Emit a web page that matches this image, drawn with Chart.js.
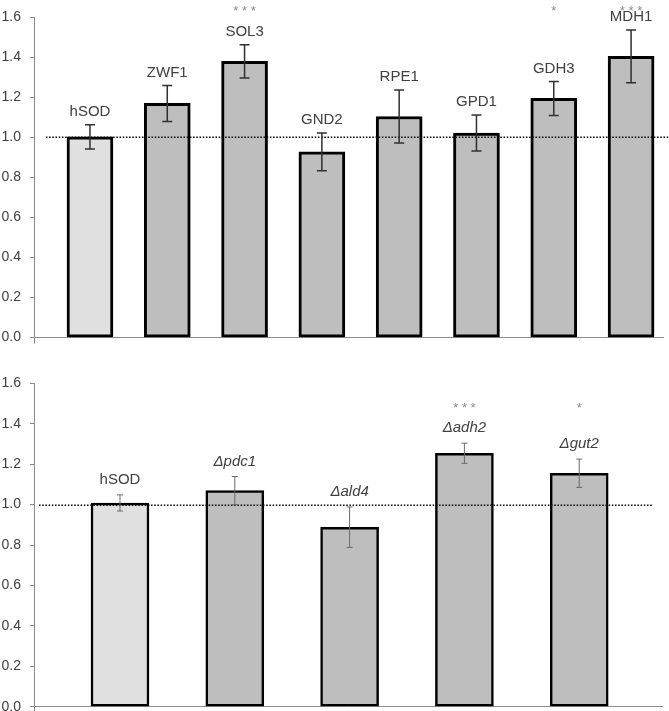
<!DOCTYPE html>
<html>
<head>
<meta charset="utf-8">
<script src="https://cdn.jsdelivr.net/npm/chart.js@4/dist/chart.umd.min.js"></script>
<style>
html,body{margin:0;padding:0;background:#fff;overflow:hidden;width:669px;height:711px;}
#c1{position:absolute;left:0;top:0;}
#c2{position:absolute;left:0;top:355px;}
</style>
</head>
<body>
<canvas id="c1" width="669" height="355"></canvas>
<canvas id="c2" width="669" height="370"></canvas>
<script>
// ---- data ----
const topCats = ["hSOD", "ZWF1", "SOL3", "GND2", "RPE1", "GPD1", "GDH3", "MDH1"];
const topValues = [1.003, 1.17, 1.38, 0.928, 1.105, 1.022, 1.195, 1.405];
const topErrors = [0.06, 0.09, 0.083, 0.094, 0.132, 0.09, 0.085, 0.132];
const topSig = ["", "", "***", "", "", "", "*", "***"];

const botCats = ["hSOD", "Δpdc1", "Δald4", "Δadh2", "Δgut2"];
const botItalic = [false, true, true, true, true];
const botValues = [1.008, 1.069, 0.888, 1.254, 1.155];
const botErrors = [0.04, 0.07, 0.1, 0.05, 0.07];
const botSig = ["", "", "", "***", "*"];

const yTicks = [0, 0.2, 0.4, 0.6, 0.8, 1.0, 1.2, 1.4, 1.6];
const refValue = 1.0;

const FONT = "'Liberation Sans', Arial, sans-serif";
const AXIS = "#8c8c8c";

function barColors(cats){ return cats.map(c => c === "hSOD" ? "#e0e0e0" : "#bebebe"); }

function makeChart(id, cfg){
  const errPlugin = {
    id: 'annot',
    afterDatasetsDraw(chart){
      const ctx = chart.ctx, xs = chart.scales.x, ys = chart.scales.y;
      // reference dotted line
      ctx.save();
      ctx.strokeStyle = "#000";
      ctx.lineWidth = 1.5;
      ctx.setLineDash([1.5, 1.7]);
      const yr = Math.round(ys.getPixelForValue(refValue)) + 0.25;
      ctx.beginPath();
      ctx.moveTo(xs.getPixelForValue(cfg.refStart), yr);
      ctx.lineTo(xs.getPixelForValue(cfg.refEnd), yr);
      ctx.stroke();
      ctx.restore();
      // error bars + labels
      cfg.values.forEach((v, i) => {
        const x = xs.getPixelForValue(i);
        const yt = ys.getPixelForValue(v + cfg.errors[i]);
        const yb = ys.getPixelForValue(v - cfg.errors[i]);
        ctx.save();
        ctx.strokeStyle = cfg.errColor;
        ctx.lineWidth = cfg.errWidth;
        ctx.beginPath();
        ctx.moveTo(x, yt); ctx.lineTo(x, yb);
        ctx.moveTo(x - cfg.cap, yt); ctx.lineTo(x + cfg.cap, yt);
        ctx.moveTo(x - cfg.cap, yb); ctx.lineTo(x + cfg.cap, yb);
        ctx.stroke();
        ctx.restore();
        ctx.save();
        ctx.fillStyle = "#404040";
        ctx.textAlign = "center";
        ctx.textBaseline = "middle";
        ctx.font = ((cfg.italic && cfg.italic[i]) ? "italic " : "") + "15px " + FONT;
        ctx.fillText(cfg.cats[i], x, yt - cfg.labelGap);
        if (cfg.sig[i]) {
          ctx.fillStyle = "#8a8a8a";
          ctx.textBaseline = "alphabetic";
          ctx.font = "13px " + FONT;
          ctx.fillText(cfg.sig[i].split("").join(" "), x, ys.getPixelForValue(cfg.starLevel));
        }
        ctx.restore();
      });
    }
  };
  return new Chart(document.getElementById(id), {
    type: 'bar',
    data: {
      datasets: [{
        data: cfg.values.map((v, i) => ({x: i, y: v})),
        backgroundColor: barColors(cfg.cats),
        borderColor: "#000",
        borderWidth: cfg.barBorder,
        borderSkipped: false,
        barThickness: cfg.barThickness
      }]
    },
    options: {
      responsive: false,
      animation: false,
      devicePixelRatio: 1,
      layout: { padding: cfg.padding },
      plugins: { legend: { display: false }, tooltip: { enabled: false } },
      scales: {
        x: {
          type: 'linear',
          offset: false,
          min: cfg.xmin, max: cfg.xmax,
          afterFit(s){ s.height = 0; },
          afterBuildTicks(s){ s.ticks = [{value: cfg.xmin}]; },
          ticks: { display: false },
          grid: { display: true, drawOnChartArea: false, drawTicks: true, tickLength: 6, color: AXIS, offset: false },
          border: { display: true, color: AXIS, width: 1 }
        },
        y: {
          min: 0, max: 1.6,
          afterFit(s){ s.width = 34; },
          afterBuildTicks(s){ s.ticks = yTicks.map(v => ({value: v})); },
          ticks: {
            padding: 9,
            color: "#404040",
            font: { family: FONT, size: 14 },
            callback: v => Number(v).toFixed(1)
          },
          grid: { display: true, drawOnChartArea: false, drawTicks: true, tickLength: 4, color: AXIS },
          border: { display: true, color: AXIS, width: 1 }
        }
      }
    },
    plugins: [errPlugin]
  });
}

makeChart('c1', {
  cats: topCats, values: topValues, errors: topErrors, sig: topSig,
  xmin: -0.724, xmax: 7.413, refStart: -0.57, refEnd: 7.6,
  padding: { top: 14, bottom: 17, left: 0, right: 6 },
  barThickness: 46, barBorder: 3, errColor: "#303030", errWidth: 1.5, cap: 5,
  labelGap: 13, starLevel: 1.612
});
makeChart('c2', {
  cats: botCats, values: botValues, errors: botErrors, sig: botSig, italic: botItalic,
  xmin: -0.749, xmax: 4.721, refStart: -0.705, refEnd: 4.634,
  padding: { top: 28.3, bottom: 18.3, left: 0, right: 7 },
  barThickness: 58, barBorder: 2.5, errColor: "#6a6a6a", errWidth: 1, cap: 3,
  labelGap: 15, starLevel: 1.458
});
</script>
</body>
</html>
